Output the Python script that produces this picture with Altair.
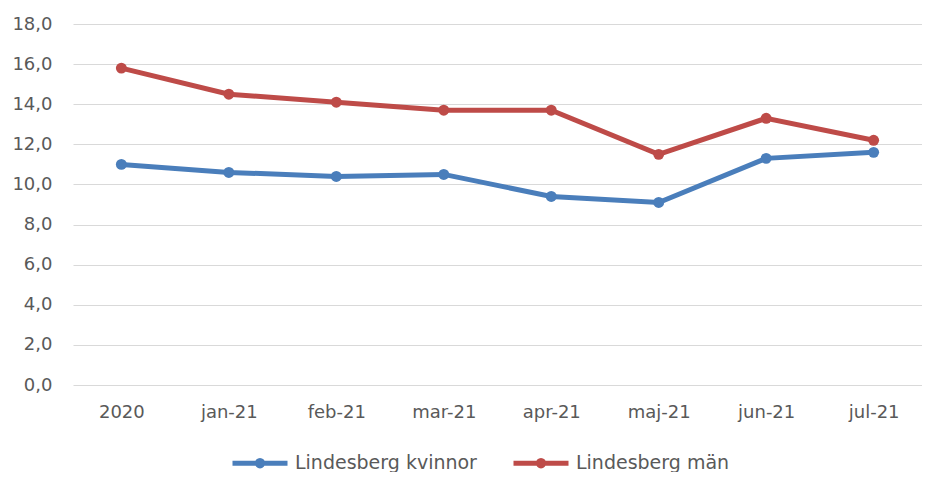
import altair as alt
import pandas as pd

months = ["2020", "jan-21", "feb-21", "mar-21", "apr-21", "maj-21", "jun-21", "jul-21"]
kvinnor = [11.0, 10.6, 10.4, 10.5, 9.4, 9.1, 11.3, 11.6]
man = [15.8, 14.5, 14.1, 13.7, 13.7, 11.5, 13.3, 12.2]
series = ["Lindesberg kvinnor", "Lindesberg män"]
colors = ["#4A7EBB", "#BE4B48"]
y_ticks = [0, 2, 4, 6, 8, 10, 12, 14, 16, 18]

rows = []
for m, v in zip(months, kvinnor):
    rows.append({"period": m, "serie": series[0], "value": v})
for m, v in zip(months, man):
    rows.append({"period": m, "serie": series[1], "value": v})
df = pd.DataFrame(rows)

FONT = "DejaVu Sans"
TXT = "#595959"
legend_symbol = "M-1,0H1M-0.1,0A0.1,0.1 0 1,0 0.1,0A0.1,0.1 0 1,0 -0.1,0"

chart = alt.Chart(df).mark_line(
    strokeWidth=5,
    point=alt.OverlayMarkDef(filled=True, size=120, opacity=1),
).encode(
    x=alt.X("period:N", sort=months, title=None,
            scale=alt.Scale(type="point", padding=0.45),
            axis=alt.Axis(labelAngle=0, ticks=False, grid=False, domain=False,
                          labelPadding=18, labelFontSize=18,
                          labelColor=TXT, labelFont=FONT)),
    y=alt.Y("value:Q", title=None,
            scale=alt.Scale(domain=[0, 18], nice=False),
            axis=alt.Axis(values=y_ticks, ticks=False, domain=False,
                          gridColor="#d9d9d9",
                          gridWidth=1, labelPadding=21, labelFontSize=18,
                          labelColor=TXT, labelFont=FONT,
                          labelExpr="replace(format(datum.value, '.1f'), '.', ',')")),
    color=alt.Color("serie:N", sort=series,
                    scale=alt.Scale(domain=series, range=colors),
                    legend=alt.Legend(title=None, orient="none", direction="horizontal",
                                      legendX=157, legendY=409, padding=0,
                                      symbolType=legend_symbol, symbolSize=3025,
                                      symbolStrokeWidth=5, labelFontSize=19,
                                      labelLimit=400,
                                      labelColor=TXT, labelFont=FONT,
                                      columnPadding=26, labelOffset=5)),
).properties(
    width=849,
    height=361,
    background="white",
    autosize=alt.AutoSizeParams(type="none"),
    padding={"left": 65, "top": 16, "right": 0, "bottom": 87},
).configure_view(stroke="transparent", strokeWidth=0)

chart.save("out.html", embed_options={"renderer": "svg", "actions": False})
